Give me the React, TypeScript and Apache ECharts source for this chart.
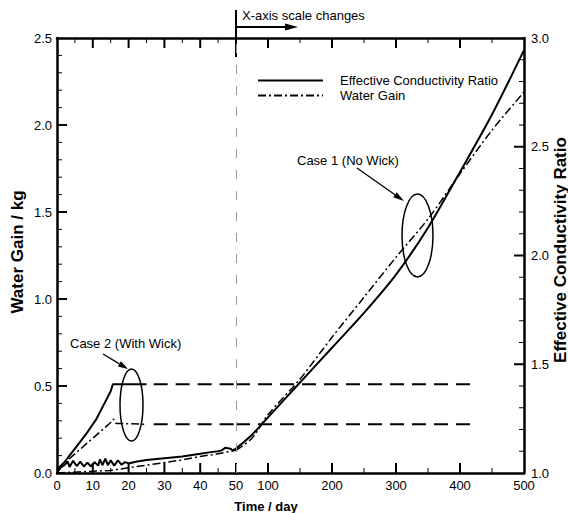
import React, { useEffect, useRef } from "react";
import * as echarts from "echarts";

const FONT = '"Liberation Sans", Arial, Helvetica, sans-serif';

// ---- tick values ----
const leftDayMajor = [10, 20, 30, 40];
const leftDayMinor = [5, 15, 25, 35, 45];
const rightDayMajor = [100, 200, 300, 400];
const rightDayMinor = [150, 250, 350, 450];
const rightDayLabels = [100, 200, 300, 400, 500];
const waterGainMajor = [0.5, 1.0, 1.5, 2.0];
const waterGainMinor = [0.1, 0.2, 0.3, 0.4, 0.6, 0.7, 0.8, 0.9, 1.1, 1.2, 1.3, 1.4, 1.6, 1.7, 1.8, 1.9, 2.1, 2.2, 2.3, 2.4];
const ratioMajor = [1.5, 2.0, 2.5];
const ratioMinor = [1.1, 1.2, 1.3, 1.4, 1.6, 1.7, 1.8, 1.9, 2.1, 2.2, 2.3, 2.4, 2.6, 2.7, 2.8, 2.9];

// ---- Case 1 (No Wick): effective conductivity ratio [day, ratio] ----
const case1Conductivity: [number, number][] = [
  [0, 1.0], [1, 1.024], [2, 1.036], [3, 1.052], [3.5, 1.028], [4.5, 1.056],
  [5.5, 1.032], [6.5, 1.052], [7.5, 1.03], [8.5, 1.048], [9.5, 1.03],
  [10.5, 1.05], [11.5, 1.034], [12, 1.062], [12.7, 1.036], [13.5, 1.066],
  [14.2, 1.036], [15, 1.058], [16, 1.034], [17, 1.058], [18, 1.038], [19, 1.05],
  [20, 1.044], [22, 1.052], [25, 1.06], [30, 1.068], [35, 1.076], [40, 1.088],
  [43, 1.096], [45, 1.1], [46, 1.104], [47, 1.116], [48.5, 1.112], [49, 1.104],
  [50, 1.112], [75, 1.176], [100, 1.256], [150, 1.416], [200, 1.576],
  [250, 1.736], [300, 1.912], [350, 2.128], [400, 2.384], [450, 2.648],
  [500, 2.944],
];

// ---- Case 1 (No Wick): water gain [day, kg] ----
const case1WaterGain: [number, number][] = [
  [0, 0.0], [5, 0.005], [10, 0.01], [15, 0.015], [20, 0.03], [25, 0.045],
  [30, 0.06], [35, 0.075], [40, 0.095], [45, 0.11], [50, 0.13], [75, 0.2],
  [100, 0.335], [150, 0.54], [200, 0.78], [250, 1.01], [300, 1.24],
  [350, 1.46], [400, 1.72], [450, 1.97], [500, 2.19],
];

// ---- Case 2 (With Wick) ----
const case2Conductivity: [number, number][] = [
  [0, 1.016], [2, 1.048], [5, 1.112], [8, 1.176], [11, 1.248], [13, 1.312],
  [15, 1.376], [15.6, 1.408], [25, 1.408],
];
const case2WaterGain: [number, number][] = [
  [0, 0.02], [5, 0.11], [10, 0.2], [15, 0.29], [15.8, 0.31], [16.5, 0.285],
  [25, 0.28],
];
const case2ConductivityPlateau: [number, number][] = [[27, 1.408], [50, 1.408], [417, 1.408]];
const case2WaterGainPlateau: [number, number][] = [[27, 0.28], [50, 0.28], [417, 0.28]];

const BREAK_DAY = 50;
const leftPart = (d: [number, number][]) => d.filter(([t]) => t <= BREAK_DAY);
const rightPart = (d: [number, number][]) => d.filter(([t]) => t >= BREAK_DAY);

const solid = { color: "#000", width: 2, type: "solid" };
const dashDot = { color: "#000", width: 1.5, type: [8, 3, 2, 3] };
const dashed = { color: "#000", width: 2, type: [14, 8] };

function line(name: string, xi: number, yi: number, data: [number, number][], lineStyle: any, extra: any = {}) {
  return {
    type: "line", name, xAxisIndex: xi, yAxisIndex: yi, data,
    symbol: "none", showSymbol: false, color: "#000", lineStyle, silent: true, ...extra,
  };
}

function arrow(x1: number, y1: number, x2: number, y2: number, len = 10, half = 3, w = 1.3) {
  const dx = x2 - x1, dy = y2 - y1;
  const L = Math.hypot(dx, dy);
  const ux = dx / L, uy = dy / L;
  const bx = x2 - ux * len, by = y2 - uy * len;
  return [
    { type: "line", shape: { x1, y1, x2: bx, y2: by }, style: { stroke: "#000", lineWidth: w } },
    {
      type: "polygon",
      shape: { points: [[x2, y2], [bx - uy * half, by + ux * half], [bx + uy * half, by - ux * half]] },
      style: { fill: "#000" },
    },
  ];
}

// grid geometry
const G0 = { left: 57, top: 38, width: 179, height: 435 };
const G1 = { left: 236, top: 38, width: 288, height: 435 };
const X0: [number, number] = [0, 50], X1: [number, number] = [50, 500];
const YW: [number, number] = [0, 2.5], YR: [number, number] = [1, 3];

const axisLine = () => ({ show: true, onZero: false, lineStyle: { color: "#000", width: 2.5 } });
const label = (extra: any = {}) => ({ show: true, color: "#000", fontSize: 13, fontFamily: FONT, ...extra });
const noTick = { show: false };
const MAJOR = 10, MINOR = 5;

// Inward tick marks as tiny two-point line series, placed through the axes' scales.
function tickSeries(): any[] {
  const out: any[] = [];
  const add = (xi: number, yi: number, a: [number, number], b: [number, number], len: number) =>
    out.push({
      type: "line", name: "axis tick", xAxisIndex: xi, yAxisIndex: yi,
      data: [a, b], symbol: "none", showSymbol: false, silent: true, clip: false,
      color: "#000", lineStyle: { color: "#000", width: len >= MAJOR ? 2 : 1, type: "solid" },
      z: 4,
    });
  const grids = [
    { xi: 0, yi: 0, g: G0, xd: X0, yd: YW },
    { xi: 2, yi: 3, g: G1, xd: X1, yd: YR },
  ];
  const xTicks = (k: number, vals: number[], len: number, withTop: boolean) => {
    const { xi, yi, g, yd } = grids[k];
    const dy = (len / g.height) * (yd[1] - yd[0]);
    vals.forEach((v) => {
      add(xi, yi, [v, yd[0]], [v, yd[0] + dy], len);
      if (withTop) add(xi, yi, [v, yd[1]], [v, yd[1] - dy], len);
    });
  };
  const yTicks = (k: number, atMax: boolean, vals: number[], len: number) => {
    const { xi, yi, g, xd } = grids[k];
    const dx = (len / g.width) * (xd[1] - xd[0]);
    const x0 = atMax ? xd[1] : xd[0];
    const x1 = atMax ? xd[1] - dx : xd[0] + dx;
    vals.forEach((v) => add(xi, yi, [x0, v], [x1, v], len));
  };
  xTicks(0, leftDayMajor, MAJOR, true);
  xTicks(0, [BREAK_DAY], MAJOR, false);
  xTicks(0, leftDayMinor, MINOR, true);
  xTicks(1, rightDayMajor, MAJOR, true);
  xTicks(1, rightDayMinor, MINOR, true);
  yTicks(0, false, waterGainMajor, MAJOR);
  yTicks(0, false, waterGainMinor, MINOR);
  yTicks(1, true, ratioMajor, MAJOR);
  yTicks(1, true, ratioMinor, MINOR);
  return out;
}

export default function App() {
  const ref = useRef<HTMLDivElement>(null);
  useEffect(() => {
    document.body.style.margin = "0";
    if (!ref.current) return;
    const chart = echarts.init(ref.current, undefined, { renderer: "svg" });
    const graphic: any[] = [
      { type: "line", shape: { x1: 236, y1: 10, x2: 236, y2: 57 }, style: { stroke: "#000", lineWidth: 2 } },
      ...arrow(236, 27, 298, 27, 13, 3.5, 2),
      {
        type: "text", x: 242, y: 15,
        style: { text: "X-axis scale changes", font: `13px ${FONT}`, fill: "#000", verticalAlign: "middle" },
      },
      {
        type: "text", x: 70, y: 343,
        style: { text: "Case 2 (With Wick)", font: `13px ${FONT}`, fill: "#000", verticalAlign: "middle" },
      },
      ...arrow(103, 354, 128, 369, 10, 3),
      { type: "ellipse", shape: { cx: 131.5, cy: 405, rx: 11.5, ry: 36 }, style: { fill: "none", stroke: "#000", lineWidth: 1.5 } },
      {
        type: "text", x: 297, y: 160,
        style: { text: "Case 1 (No Wick)", font: `13px ${FONT}`, fill: "#000", verticalAlign: "middle" },
      },
      ...arrow(357, 168, 404, 201, 11, 3),
      { type: "ellipse", shape: { cx: 417.5, cy: 235.5, rx: 15.5, ry: 41.5 }, style: { fill: "none", stroke: "#000", lineWidth: 1.5 } },
      {
        type: "text", x: 17, y: 252, rotation: Math.PI / 2,
        style: { text: "Water Gain / kg", font: `bold 17px ${FONT}`, fill: "#000", align: "center", verticalAlign: "middle" },
      },
      {
        type: "text", x: 266, y: 506,
        style: { text: "Time / day", font: `bold 13px ${FONT}`, fill: "#000", align: "center", verticalAlign: "middle" },
      },
      {
        type: "text", x: 560, y: 250, rotation: Math.PI / 2,
        style: { text: "Effective Conductivity Ratio", font: `bold 17px ${FONT}`, fill: "#000", align: "center", verticalAlign: "middle" },
      },
    ];
    const option: any = {
      animation: false,
      grid: [G0, G1],
      xAxis: [
        {
          type: "value", gridIndex: 0, min: X0[0], max: X0[1], interval: 10,
          axisLine: axisLine(), axisTick: noTick,
          axisLabel: label({ margin: 6 }), splitLine: { show: false },
        },
        {
          type: "value", gridIndex: 0, position: "top", min: X0[0], max: X0[1], interval: 10,
          axisLine: axisLine(), axisTick: noTick,
          axisLabel: { show: false }, splitLine: { show: false },
        },
        {
          type: "value", gridIndex: 1, min: X1[0], max: X1[1], interval: 50,
          axisLine: axisLine(), axisTick: noTick,
          axisLabel: label({ margin: 6, customValues: rightDayLabels }),
          splitLine: { show: false },
        },
        {
          type: "value", gridIndex: 1, position: "top", min: X1[0], max: X1[1], interval: 50,
          axisLine: axisLine(), axisTick: noTick,
          axisLabel: { show: false }, splitLine: { show: false },
        },
      ],
      yAxis: [
        {
          type: "value", gridIndex: 0, min: YW[0], max: YW[1], interval: 0.5,
          axisLine: axisLine(), axisTick: noTick,
          axisLabel: label({ margin: 5, formatter: (v: number) => v.toFixed(1) }),
          splitLine: { show: false },
        },
        { type: "value", gridIndex: 0, position: "right", min: YR[0], max: YR[1], show: false, splitLine: { show: false } },
        { type: "value", gridIndex: 1, position: "left", min: YW[0], max: YW[1], show: false, splitLine: { show: false } },
        {
          type: "value", gridIndex: 1, position: "right", min: YR[0], max: YR[1], interval: 0.5,
          axisLine: axisLine(), axisTick: noTick,
          axisLabel: label({ margin: 7, formatter: (v: number) => v.toFixed(1) }),
          splitLine: { show: false },
        },
      ],
      legend: {
        data: ["Effective Conductivity Ratio", "Water Gain"],
        orient: "vertical",
        left: 257,
        top: 74,
        padding: 0,
        itemWidth: 65,
        itemHeight: 14,
        itemGap: 2,
        selectedMode: false,
        itemStyle: { opacity: 0 },
        textStyle: { color: "#000", fontSize: 13, fontFamily: FONT, padding: [0, 0, 0, 12] },
      },
      series: [
        line("Effective Conductivity Ratio", 0, 1, leftPart(case1Conductivity), solid),
        line("Effective Conductivity Ratio", 2, 3, rightPart(case1Conductivity), solid, {
          smooth: 0.3,
          markLine: {
            silent: true, symbol: "none", label: { show: false },
            lineStyle: { color: "#9a9a9a", width: 1, type: [9, 12] },
            data: [{ xAxis: BREAK_DAY }],
          },
        }),
        line("Effective Conductivity Ratio", 0, 1, case2Conductivity, solid),
        line("Water Gain", 0, 0, leftPart(case1WaterGain), dashDot),
        line("Water Gain", 2, 2, rightPart(case1WaterGain), dashDot, { smooth: 0.3 }),
        line("Water Gain", 0, 0, case2WaterGain, dashDot),
        line("Case 2 ratio plateau", 0, 1, leftPart(case2ConductivityPlateau), dashed),
        line("Case 2 ratio plateau", 2, 3, rightPart(case2ConductivityPlateau), dashed),
        line("Case 2 gain plateau", 0, 0, leftPart(case2WaterGainPlateau), dashed),
        line("Case 2 gain plateau", 2, 2, rightPart(case2WaterGainPlateau), dashed),
        ...tickSeries(),
      ],
      graphic,
    };
    chart.setOption(option);
    return () => chart.dispose();
  }, []);
  return <div ref={ref} style={{ width: 568, height: 513 }} />;
}
